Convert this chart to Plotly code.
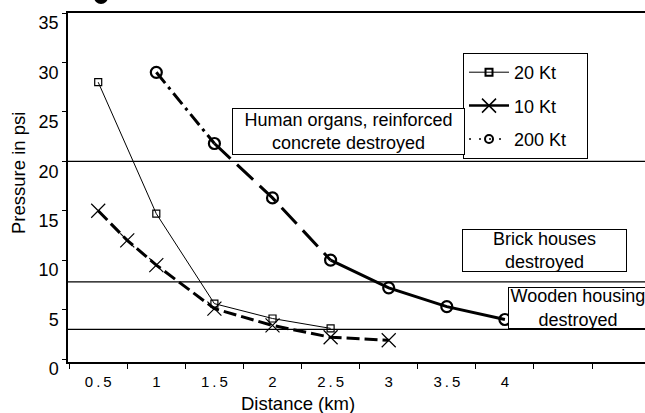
import plotly.graph_objects as go

# ---- data ----
dist_20 = [0.5, 1, 1.5, 2, 2.5]
p_20 = [28, 14.7, 5.6, 4.1, 3.1]

dist_10 = [0.5, 0.75, 1, 1.5, 2, 2.5, 3]
p_10 = [15, 12, 9.5, 5.1, 3.4, 2.2, 1.9]

dist_200 = [1, 1.5, 2, 2.5, 3, 3.5, 4]
p_200 = [29, 21.8, 16.3, 10, 7.2, 5.3, 4]

thresholds = [20, 7.8, 3]
threshold_labels = ["Human organs, reinforced<br>concrete destroyed",
                    "Brick houses<br>destroyed",
                    "Wooden housing<br>destroyed"]

series_names = ["20 Kt", "10 Kt", "200 Kt"]

x_tick_vals = [0.5, 1, 1.5, 2, 2.5, 3, 3.5, 4]
x_tick_text = ["0.5", "1", "1.5", "2", "2.5", "3", "3.5", "4"]
y_tick_vals = [0, 5, 10, 15, 20, 25, 30, 35]

FONT = "Liberation Sans, Arial, sans-serif"

fig = go.Figure()

# 20 Kt
fig.add_trace(go.Scatter(x=dist_20, y=p_20, mode="lines+markers", showlegend=False,
                         line=dict(color="black", width=1),
                         marker=dict(symbol="square-open", size=7, color="black",
                                     line=dict(width=1.2, color="black"))))
# 10 Kt
fig.add_trace(go.Scatter(x=dist_10, y=p_10, mode="lines", showlegend=False,
                         line=dict(color="black", width=3, dash="13px,5px")))
fig.add_trace(go.Scatter(x=dist_10, y=p_10, mode="markers", showlegend=False,
                         marker=dict(symbol="x-thin-open", size=14, color="black",
                                     line=dict(width=1.2, color="black"))))
# 200 Kt, line pattern changes along the curve
fig.add_trace(go.Scatter(x=dist_200[0:2], y=p_200[0:2], mode="lines", showlegend=False,
                         line=dict(color="black", width=3, dash="14px,5px,3px,5px")))
fig.add_trace(go.Scatter(x=dist_200[1:4], y=p_200[1:4], mode="lines", showlegend=False,
                         line=dict(color="black", width=3, dash="22px,9px")))
fig.add_trace(go.Scatter(x=dist_200[3:], y=p_200[3:], mode="lines", showlegend=False,
                         line=dict(color="black", width=3)))
fig.add_trace(go.Scatter(x=dist_200, y=p_200, mode="markers", showlegend=False,
                         marker=dict(symbol="circle-open", size=11, color="black",
                                     line=dict(width=2.2, color="black"))))

# legend entries
fig.add_trace(go.Scatter(x=[None], y=[None], mode="lines+markers", name=series_names[0],
                         legendgroup="a",
                         line=dict(color="black", width=1),
                         marker=dict(symbol="square-open", size=7, color="black",
                                     line=dict(width=2, color="black"))))
fig.add_trace(go.Scatter(x=[None], y=[None], mode="lines+markers", name=series_names[1],
                         legendgroup="b",
                         line=dict(color="black", width=2.5),
                         marker=dict(symbol="x-thin-open", size=14, color="black",
                                     line=dict(width=1.5, color="black"))))
fig.add_trace(go.Scatter(x=[None], y=[None], mode="lines+markers",
                         name=series_names[2] + "\u00a0\u00a0\u00a0",
                         legendgroup="c",
                         line=dict(color="black", width=1.5, dash="2px,8px"),
                         marker=dict(symbol="circle-open", size=8, color="black",
                                     line=dict(width=2, color="black"))))

for t in thresholds:
    fig.add_shape(type="line", xref="paper", x0=0, x1=1, yref="y", y0=t, y1=t,
                  line=dict(color="black", width=1.3), layer="above")

# partial title glyph visible at the very top edge
fig.add_shape(type="circle", xref="paper", yref="paper",
              x0=(94 - 68) / 577, x1=(108 - 68) / 577,
              y0=1 - (4 - 13) / 349, y1=1 - (-10 - 13) / 349,
              fillcolor="black", line=dict(width=0), layer="above")

ann_pos = [(0.486, 0.6605, 231, 45), (0.8258, 0.3195, 163, 41), (0.884, 0.1547, 138, 40)]
for txt, (ax, ay, w, h) in zip(threshold_labels, ann_pos):
    fig.add_annotation(text=txt, xref="paper", yref="paper", x=ax, y=ay,
                       xanchor="center", yanchor="middle", showarrow=False,
                       width=w, height=h, align="center", valign="middle",
                       bordercolor="black", borderwidth=1, borderpad=0, bgcolor="white",
                       font=dict(family=FONT, size=18, color="black"))

fig.add_annotation(text="Distance (km)", xref="paper", yref="paper", x=0.3986, y=-0.1203,
                   xanchor="center", yanchor="middle", showarrow=False,
                   font=dict(family=FONT, size=18.5, color="black"))
fig.add_annotation(text="Pressure in psi", xref="paper", yref="paper", x=-0.0867, y=0.5415,
                   xanchor="center", yanchor="middle", showarrow=False, textangle=-90,
                   font=dict(family=FONT, size=18.5, color="black"))

fig.update_layout(
    width=645, height=413,
    margin=dict(l=68, r=0, t=13, b=51),
    paper_bgcolor="white", plot_bgcolor="white",
    font=dict(family=FONT, size=18, color="black"),
    legend=dict(x=0.6846, y=0.8854, xanchor="left", yanchor="top",
                bordercolor="black", borderwidth=1, bgcolor="white",
                traceorder="grouped", tracegroupgap=7, itemwidth=40,
                font=dict(family=FONT, size=18, color="black")),
    xaxis=dict(range=[0.24, 0.24 + 577 / 116.2], showgrid=False, zeroline=False,
               showline=True, linecolor="black", linewidth=1.5, mirror=True,
               tickmode="array", tickvals=x_tick_vals,
               ticktext=["\u2009".join(list(s)) for s in x_tick_text],
               ticks="", ticklabelstandoff=5,
               tickfont=dict(family=FONT, size=15, color="black"),
               minor=dict(tickmode="array",
                          tickvals=[v - 0.25 for v in x_tick_vals] + [4.25, 4.75],
                          ticks="outside", ticklen=5, tickcolor="black", tickwidth=1.2)),
    yaxis=dict(range=[-0.3, 35], showgrid=False, zeroline=False,
               showline=True, linecolor="black", linewidth=1.5,
               tickmode="array", tickvals=y_tick_vals,
               ticks="outside", ticklen=4, tickcolor="black", tickwidth=1.2,
               ticklabelshift=10,
               tickfont=dict(family=FONT, size=18, color="black")),
)

fig.write_html("out.html", config={"displayModeBar": False},
               post_script="document.body.style.margin='0';document.body.style.overflow='hidden';")
